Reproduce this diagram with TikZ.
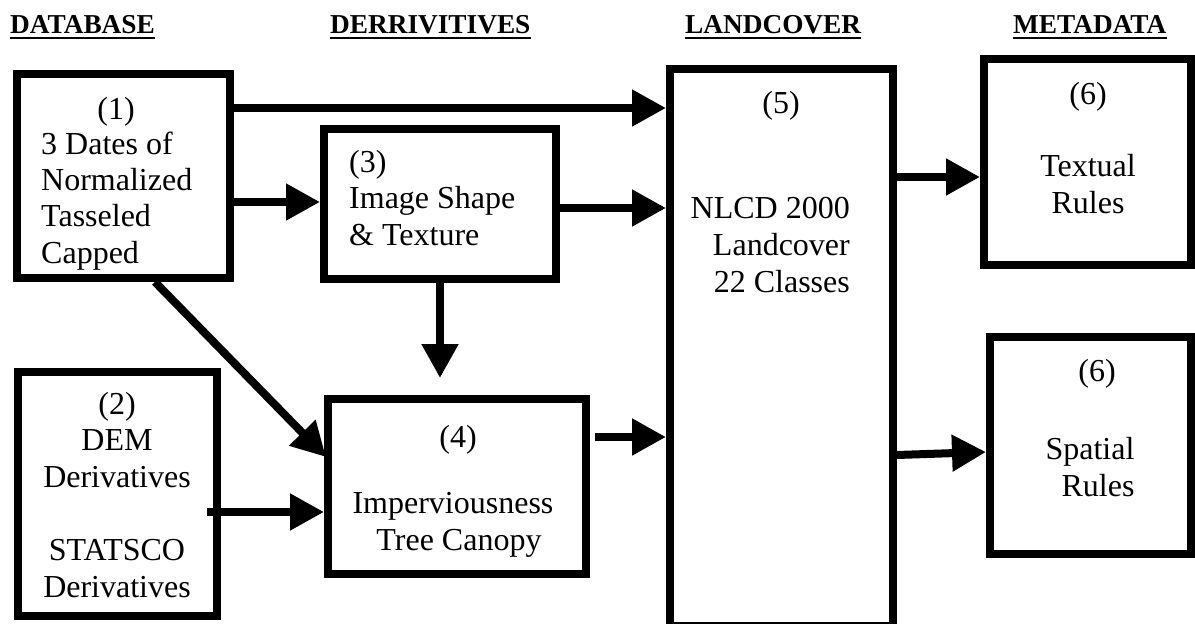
\documentclass[tikz,border=0pt]{standalone}
\usepackage{fontspec}
\setmainfont{Liberation Serif}
\usetikzlibrary{arrows.meta}
\begin{document}
\begin{tikzpicture}[x=1pt,y=-1pt,
  box/.style={draw,line width=8pt,inner sep=0pt,fill=none},
  txt/.style={inner sep=0pt,font=\fontsize{32}{37}\selectfont},
  hd/.style={inner sep=0pt,anchor=base west,font=\fontsize{27.3}{30}\selectfont\bfseries},
  arr/.style={line width=8pt,-{Triangle[length=34pt,width=35pt]}},
  ul/.style={line width=2.6pt}]
\useasboundingbox (0,0) rectangle (1195,624);
\fill[white] (0,0) rectangle (1195,624);
\clip (0,0) rectangle (1195,624);
% headers
\node[hd] (h1) at (10,33) {DATABASE};
\node[hd] (h2) at (330,33) {DERRIVITIVES};
\node[hd] (h3) at (685,33) {LANDCOVER};
\node[hd] (h4) at (1013,33) {METADATA};
\foreach \h in {h1,h2,h3,h4}{
  \draw[ul] ([yshift=-5pt]\h.base west) -- ([yshift=-5pt]\h.base east);
}
% boxes
\node[box,minimum width=213pt,minimum height=204pt] (b1) at (123.5,176) {};
\node[box,minimum width=232pt,minimum height=150pt] (b3) at (440,204) {};
\node[box,minimum width=223pt,minimum height=557pt] (b5) at (781.5,347.5) {};
\node[box,minimum width=207pt,minimum height=206pt] (b6a) at (1087.5,162) {};
\node[box,minimum width=201pt,minimum height=217pt] (b6b) at (1090.5,445.5) {};
\node[box,minimum width=199pt,minimum height=244pt] (b2) at (117.5,494) {};
\node[box,minimum width=258pt,minimum height=175pt] (b4) at (457,486.5) {};
% texts box 1
\node[txt,anchor=base] (t1a) at (116,119) {(1)};
\node[txt,anchor=base west] (t1b) at (41,154) {3 Dates of};
\node[txt,anchor=base west] (t1c) at (41,190) {Normalized};
\node[txt,anchor=base west] (t1d) at (41,226) {Tasseled};
\node[txt,anchor=base west] (t1e) at (41,263) {Capped};
% box 3
\node[txt,anchor=base west] (t3a) at (349,172) {(3)};
\node[txt,anchor=base west] (t3b) at (349,208) {Image Shape};
\node[txt,anchor=base west] (t3c) at (349,245) {\& Texture};
% box 5
\node[txt,anchor=base] (t5a) at (781,113) {(5)};
\node[txt,anchor=base east] (t5b) at (850,218) {NLCD 2000};
\node[txt,anchor=base east] (t5c) at (850,255) {Landcover};
\node[txt,anchor=base east] (t5d) at (850,292) {22 Classes};
% box 6a
\node[txt,anchor=base] (t6a) at (1088,104) {(6)};
\node[txt,anchor=base] (t6b) at (1088,176) {Textual};
\node[txt,anchor=base] (t6c) at (1088,213) {Rules};
% box 6b
\node[txt,anchor=base] (t6d) at (1097,381) {(6)};
\node[txt,anchor=base] (t6e) at (1090,459) {Spatial};
\node[txt,anchor=base] (t6f) at (1098,496) {Rules};
% box 2
\node[txt,anchor=base] (t2a) at (117,414) {(2)};
\node[txt,anchor=base] (t2b) at (117,450) {DEM};
\node[txt,anchor=base] (t2c) at (117,487) {Derivatives};
\node[txt,anchor=base] (t2d) at (117,560) {STATSCO};
\node[txt,anchor=base] (t2e) at (117,597) {Derivatives};
% box 4
\node[txt,anchor=base] (t4a) at (458,447) {(4)};
\node[txt,anchor=base] (t4b) at (453,513) {Imperviousness};
\node[txt,anchor=base] (t4c) at (459,550) {Tree Canopy};
% connector coordinates
\coordinate (y15) at (0,108);
\coordinate (y13) at (0,202);
\coordinate (y35) at (0,208);
\coordinate (y56a) at (0,177);
\coordinate (s24) at (207,512);
\coordinate (s45) at (595,437);
\coordinate (d1) at (155,282);
\coordinate (e14) at (326,457);
\coordinate (e34) at (440,378);
\coordinate (s56b) at (897,455);
\coordinate (e56b) at (986,452);
% connectors
\draw[arr] (b1.east |- y15) -- (b5.west |- y15);
\draw[arr] (b1.east |- y13) -- (b3.west |- y13);
\draw[arr] (b3.east |- y35) -- (b5.west |- y35);
\draw[arr] (b5.east |- y56a) -- (b6a.west |- y56a);
\draw[arr] (d1) -- (e14);
\draw[arr] (b3.south) -- (e34);
\draw[arr] (s24) -- (b4.west |- s24);
\draw[arr] (s45) -- (b5.west |- s45);
\draw[arr] (s56b) -- (e56b);
\end{tikzpicture}
\end{document}
